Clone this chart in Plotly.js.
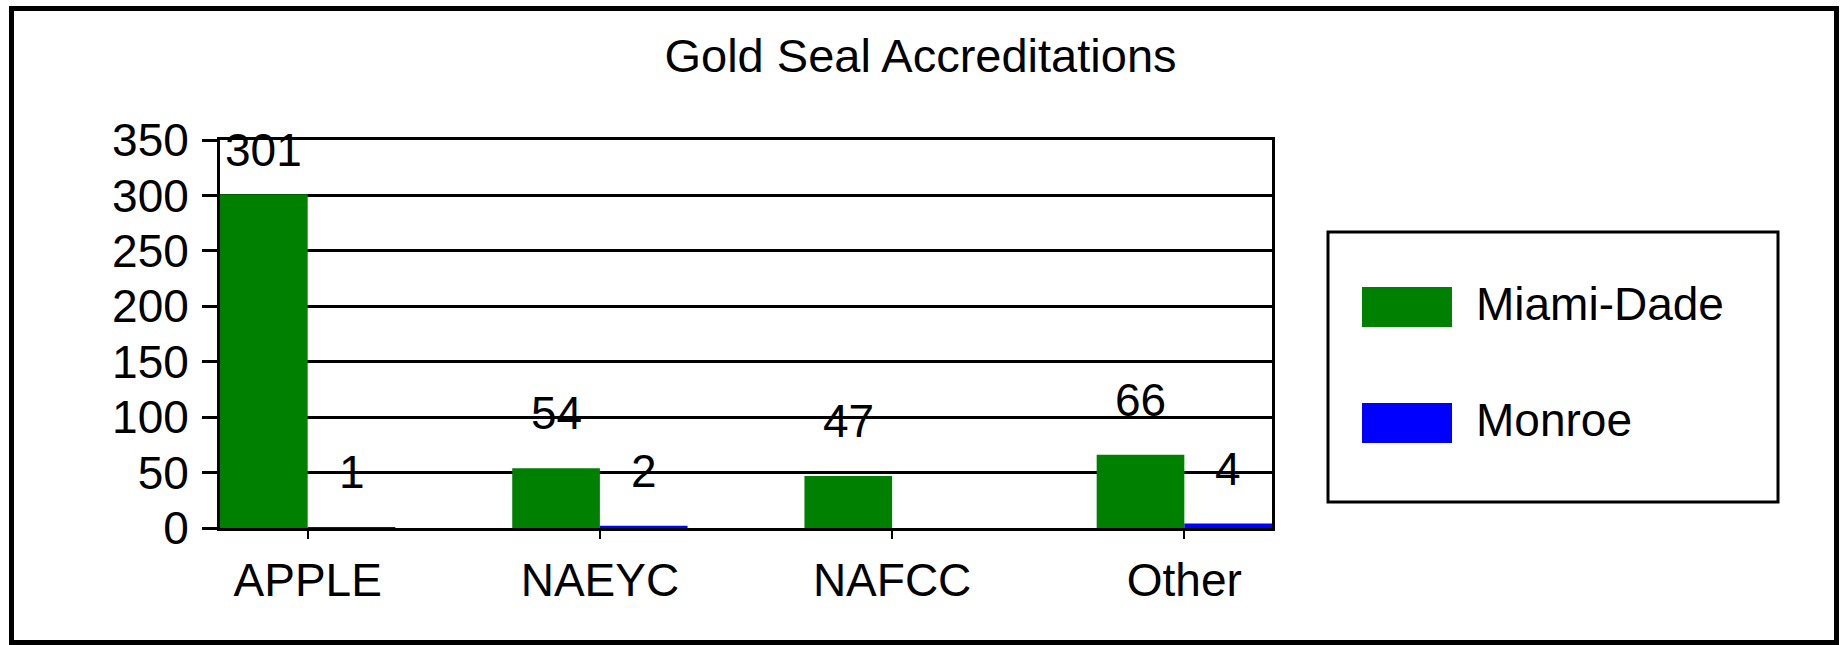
<!DOCTYPE html>
<html>
<head>
<meta charset="utf-8">
<script src="https://cdn.plot.ly/plotly-3.0.1.min.js"></script>
<style>
  html, body { margin: 0; padding: 0; background: #fff; }
  #wrap { position: relative; width: 1841px; height: 645px; }
  #chart { position: absolute; left: 0; top: 0; width: 1841px; height: 645px; }
  #frame { position: absolute; left: 9px; top: 6px; width: 1830px; height: 639px;
           box-sizing: border-box; border: 5px solid #000; pointer-events: none; }
</style>
</head>
<body>
<div id="wrap">
  <div id="chart"></div>
  <div id="frame"></div>
</div>
<script>
// ---- data ----
const categories = ['APPLE', 'NAEYC', 'NAFCC', 'Other'];
const miamiDade = [301, 54, 47, 66];
const monroe = [1, 2, null, 4];
const seriesNames = ['Miami-Dade', 'Monroe'];
const yTickVals = [0, 50, 100, 150, 200, 250, 300, 350];
const chartTitle = 'Gold Seal Accreditations';

// ---- style / layout constants ----
const W = 1841, H = 645;
const plotL = 220, plotR = 1272, plotT = 140, plotB = 528;
const FONT = '"Liberation Sans", Arial, Helvetica, sans-serif';
const FS = 46;
const colors = ['#008000', '#0000FF'];
const bargap = 0.4;
const barHalfOffset = (1 - bargap) / 4; // center offset of each bar in a 2-bar group
const yMax = 350;
const labelLift = 55;      // px above bar top (label centre)
const labelTopLimit = 10;  // label centre kept at least this far below plot top

const px2x = p => (p - plotL) / (plotR - plotL);
const px2y = p => (plotB - p) / (plotB - plotT);

const seriesValues = [miamiDade, monroe];

const traces = seriesValues.map((vals, s) => ({
  type: 'bar',
  name: seriesNames[s],
  x: categories,
  y: vals,
  marker: { color: colors[s], line: { width: 0 } },
  showlegend: false,
  hoverinfo: 'x+y+name'
}));

// data labels
const pxPerUnit = (plotB - plotT) / yMax;
const annotations = [];
seriesValues.forEach((vals, s) => {
  const off = s === 0 ? -barHalfOffset : barHalfOffset;
  vals.forEach((v, i) => {
    if (v === null || v === undefined) return;
    const room = (yMax - v) * pxPerUnit - labelTopLimit;
    annotations.push({
      xref: 'x', yref: 'y', x: i + off, y: v,
      text: String(v), showarrow: false,
      xanchor: 'center', yanchor: 'middle', yshift: Math.min(labelLift, room),
      font: { family: FONT, size: FS, color: '#000' }
    });
  });
});

// custom legend (large swatches like the original)
const legendBox = { x0: 1328, x1: 1778, y0: 232, y1: 502 };
const swatch = { x0: 1362, x1: 1452, h: 40 };
const itemCenters = [307, 423];
const shapes = [{
  type: 'rect', xref: 'paper', yref: 'paper',
  x0: px2x(legendBox.x0), x1: px2x(legendBox.x1),
  y0: px2y(legendBox.y1), y1: px2y(legendBox.y0),
  line: { color: '#000', width: 3 }, fillcolor: 'rgba(0,0,0,0)'
}];
seriesNames.forEach((nm, s) => {
  const cy = itemCenters[s];
  shapes.push({
    type: 'rect', xref: 'paper', yref: 'paper',
    x0: px2x(swatch.x0), x1: px2x(swatch.x1),
    y0: px2y(cy + swatch.h / 2), y1: px2y(cy - swatch.h / 2),
    line: { width: 0 }, fillcolor: colors[s]
  });
  annotations.push({
    xref: 'paper', yref: 'paper', x: px2x(1474), y: px2y(cy - 3),
    text: nm, showarrow: false, xanchor: 'left', yanchor: 'middle',
    font: { family: FONT, size: FS, color: '#000' }
  });
});

const layout = {
  width: W, height: H,
  margin: { l: plotL, r: W - plotR, t: plotT, b: H - plotB, pad: 0 },
  paper_bgcolor: '#fff', plot_bgcolor: '#fff',
  font: { family: FONT, size: FS, color: '#000' },
  title: {
    text: chartTitle, xref: 'container', yref: 'container',
    x: 0.5, xanchor: 'center', y: 1 - 56 / H, yanchor: 'middle',
    font: { family: FONT, size: 47, color: '#000' }
  },
  barmode: 'group', bargap: bargap, bargroupgap: 0,
  showlegend: false,
  xaxis: {
    type: 'category', range: [-0.3, 3.3], fixedrange: true,
    showline: true, linecolor: '#000', linewidth: 3, mirror: true,
    showgrid: false, zeroline: false,
    ticks: 'outside', ticklen: 8, tickwidth: 2, tickcolor: '#000',
    tickfont: { family: FONT, size: FS, color: '#000' },
    ticklabelstandoff: 2
  },
  yaxis: {
    range: [0, yMax], tickvals: yTickVals, ticktext: yTickVals.map(String),
    fixedrange: true,
    showline: true, linecolor: '#000', linewidth: 3, mirror: true,
    showgrid: true, gridcolor: '#000', gridwidth: 3, zeroline: false,
    ticks: 'outside', ticklen: 15, tickwidth: 3, tickcolor: '#000',
    tickfont: { family: FONT, size: FS, color: '#000' },
    ticklabelstandoff: 4
  },
  shapes: shapes,
  annotations: annotations
};

Plotly.newPlot('chart', traces, layout, { displayModeBar: false, staticPlot: true });
</script>
</body>
</html>
